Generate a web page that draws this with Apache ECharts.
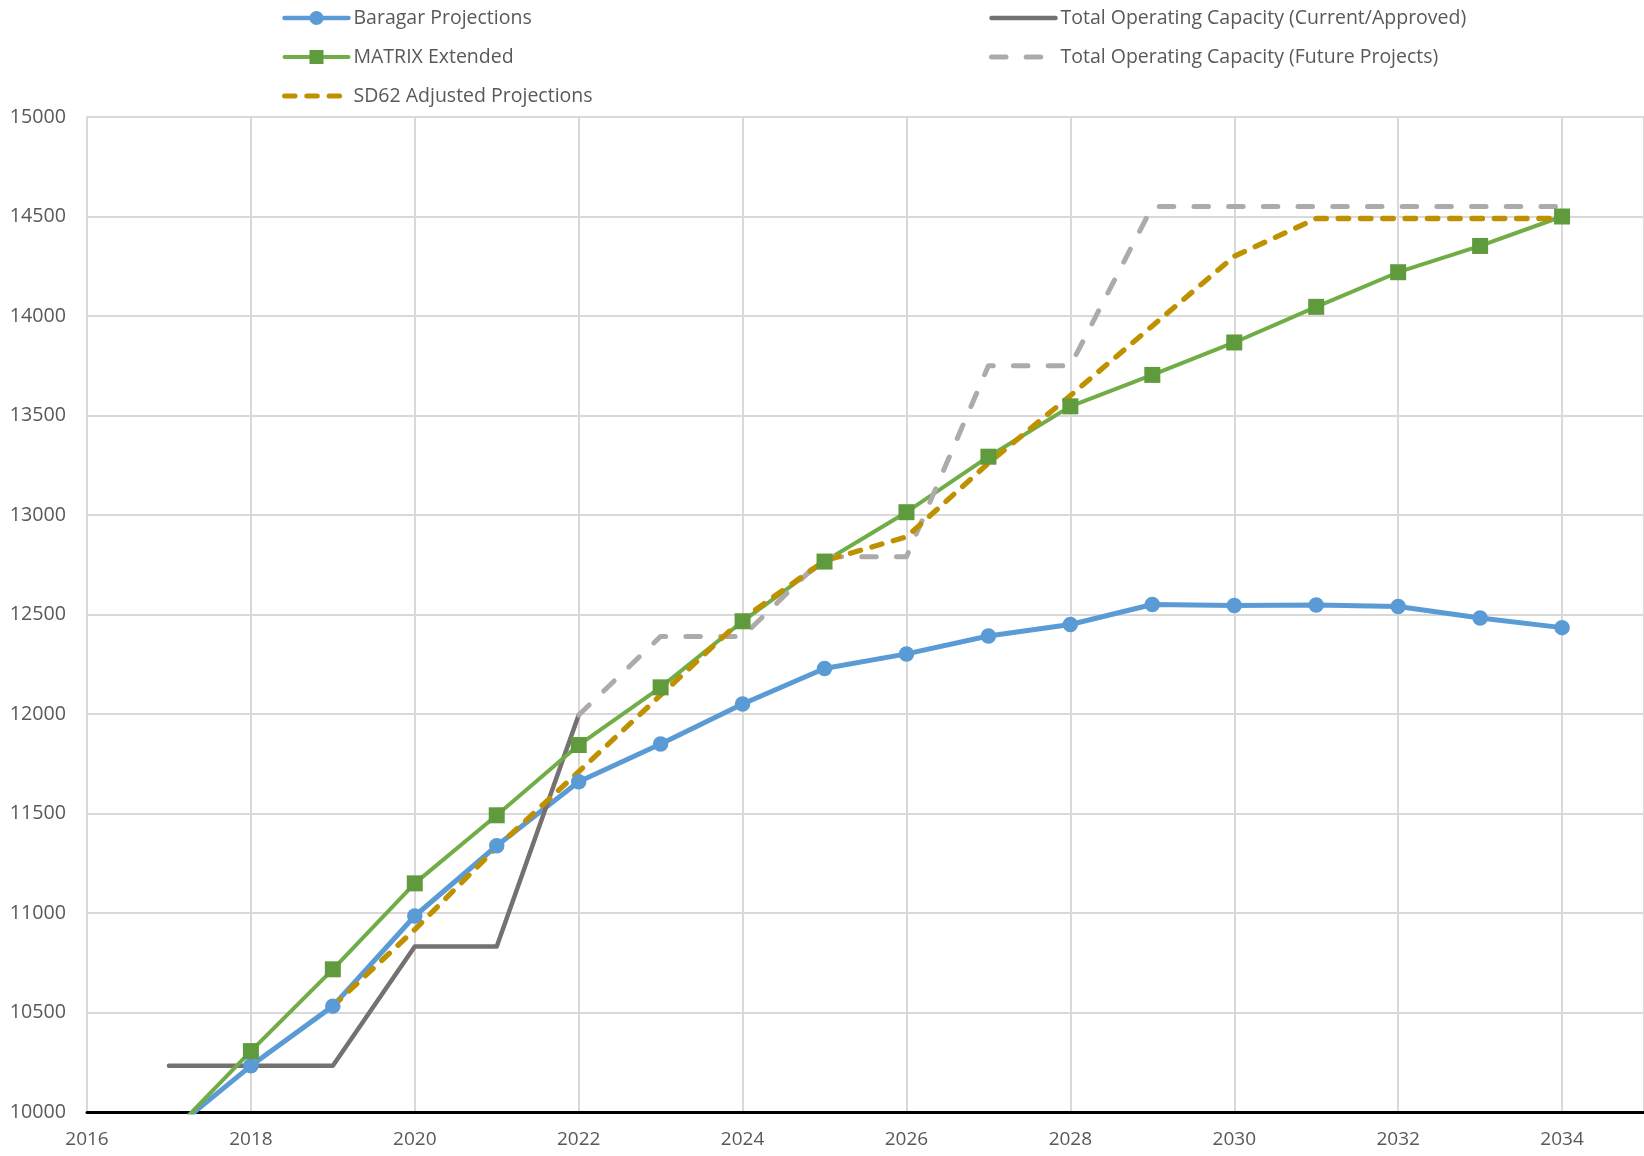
<!DOCTYPE html>
<html><head><meta charset="utf-8">
<script src="https://cdn.jsdelivr.net/npm/echarts@6/dist/echarts.min.js"></script>
<style>html,body{margin:0;padding:0;background:#fff}#c{width:1644px;height:1156px}</style>
</head><body><div id="c"></div>
<script>
// ---- data ----
const years = [2017,2018,2019,2020,2021,2022,2023,2024,2025,2026,2027,2028,2029,2030,2031,2032,2033,2034];
const baragar = [9896,10232,10532,10985,11338,11660,11849,12050,12229,12302,12392,12450,12550,12545,12548,12540,12482,12434];
const matrix = [9881,10306,10717,11149,11491,11844,12134,12466,12766,13014,13293,13546,13704,13867,14046,14220,14352,14500];
const sd62Years = [2019,2020,2021,2022,2023,2024,2025,2026,2027,2028,2029,2030,2031,2032,2033,2034];
const sd62 = [10532,10917,11330,11710,12095,12478,12770,12890,13260,13600,13950,14300,14490,14490,14490,14490];
const currentYears = [2017,2018,2019,2020,2021,2022];
const current = [10232,10232,10232,10832,10832,11995];
const futureYears = [2022,2023,2024,2025,2026,2027,2028,2029,2030,2031,2032,2033,2034];
const future = [11995,12390,12390,12790,12790,13750,13750,14550,14550,14550,14550,14550,14550];
const names = ['Baragar Projections','MATRIX Extended','SD62 Adjusted Projections',
  'Total Operating Capacity (Current/Approved)','Total Operating Capacity (Future Projects)'];

const pair = (xs, ys) => xs.map((x, i) => [x, ys[i]]);
const FONT = '"Open Sans", sans-serif';
const TXT = '#595959';

const chart = echarts.init(document.getElementById('c'), null, {renderer: 'canvas'});
const legendBase = {
  orient: 'vertical', top: 8, itemWidth: 64, itemHeight: 17.5, itemGap: 19,
  textStyle: {fontFamily: FONT, fontSize: 19.5, color: TXT},
  padding: 0, selectedMode: false
};
const lineItem = (name, w) => ({name: name, lineStyle: {width: w}});
const plainItem = (name, w) => ({name: name, lineStyle: {width: w}, itemStyle: {opacity: 0}});
chart.setOption({
  animation: false,
  backgroundColor: '#fff',
  legend: [
    Object.assign({}, legendBase, {left: 282, data: [lineItem(names[0], 4.5), lineItem(names[1], 4), plainItem(names[2], 5)]}),
    Object.assign({}, legendBase, {left: 989, data: [plainItem(names[3], 4.5), plainItem(names[4], 5)]})
  ],
  grid: {left: 87, right: 0, top: 117, bottom: 44, containLabel: false, outerBoundsMode: 'none'},
  xAxis: {
    type: 'value', min: 2016, max: 2035, interval: 2,
    axisLine: {show: true, onZero: false, lineStyle: {color: '#000', width: 3}},
    axisTick: {show: false},
    splitLine: {show: true, lineStyle: {color: '#D9D9D9', width: 2}},
    axisLabel: {fontFamily: FONT, fontSize: 19, color: TXT, margin: 18,
      formatter: v => (v === 2035 ? '' : String(v))}
  },
  yAxis: {
    type: 'value', min: 10000, max: 15000, interval: 500,
    axisLine: {show: true, lineStyle: {color: '#D9D9D9', width: 2}},
    axisTick: {show: false},
    splitLine: {show: true, lineStyle: {color: '#D9D9D9', width: 2}},
    axisLabel: {fontFamily: FONT, fontSize: 19.7, color: TXT, margin: 21, formatter: v => String(v)}
  },
  series: [
    {name: names[0], type: 'line', data: pair(years, baragar), clip: true,
     symbol: 'circle', symbolSize: 15.5,
     itemStyle: {color: '#5B9BD5'}, lineStyle: {color: '#5B9BD5', width: 5, cap: 'round', join: 'round'}},
    {name: names[3], type: 'line', data: pair(currentYears, current), clip: true,
     symbol: 'none',
     itemStyle: {color: '#767171'}, lineStyle: {color: '#767171', width: 4.5, cap: 'round', join: 'round'}},
    {name: names[1], type: 'line', data: pair(years, matrix), clip: true,
     symbol: 'rect', symbolSize: 16,
     itemStyle: {color: '#5F9A3C'}, lineStyle: {color: '#70AD47', width: 4, cap: 'round', join: 'round'}},
    {name: names[4], type: 'line', data: pair(futureYears, future), clip: true,
     symbol: 'none',
     itemStyle: {color: '#AEAAAA'}, lineStyle: {color: '#AEAAAA', width: 5, type: [14.5, 20.2], cap: 'round', join: 'round'}},
    {name: names[2], type: 'line', data: pair(sd62Years, sd62), clip: true,
     symbol: 'none',
     itemStyle: {color: '#BF9000'}, lineStyle: {color: '#BF9000', width: 5.3, type: [10.5, 11.8], cap: 'round', join: 'round'}}
  ]
});
</script>
</body></html>
